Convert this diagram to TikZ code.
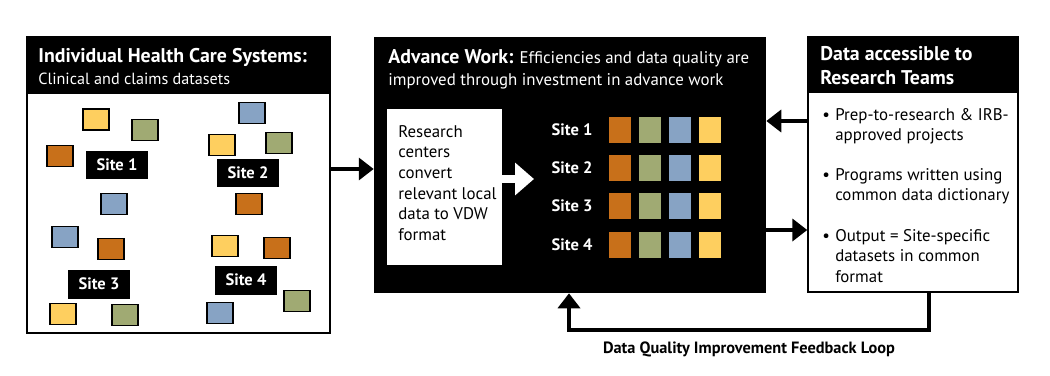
\documentclass[tikz,border=0pt]{standalone}
\usepackage{fontspec}
\setmainfont{PT Sans}
\usetikzlibrary{arrows.meta, positioning}

\definecolor{vdworange}{RGB}{200,112,26}
\definecolor{vdwgreen}{RGB}{160,170,115}
\definecolor{vdwblue}{RGB}{135,163,196}
\definecolor{vdwyellow}{RGB}{254,207,95}

\newcommand{\headsize}{\fontsize{11.3}{13.6}\selectfont}
\newcommand{\bodysize}{\fontsize{9.6}{11.8}\selectfont}
\newcommand{\subsize}{\fontsize{9.2}{11.8}\selectfont}
\newcommand{\tagsize}{\fontsize{9.4}{11}\selectfont}
\newcommand{\loopsize}{\fontsize{9.3}{11}\selectfont}
% text block whose base is the first line
\newcommand{\stack}[1]{\begin{tabular}[t]{@{}l@{}}#1\end{tabular}}
\newcommand{\bulletstack}[1]{\begin{tabular}[t]{@{}l@{\hspace{3pt}}l@{}}#1\end{tabular}}

\tikzset{
  panel/.style={draw=black, line width=0.85pt, inner sep=0pt},
  band/.style={fill=black, inner sep=0pt},
  rawcell/.style={draw=black, line width=0.8pt, minimum width=0.52cm, minimum height=0.42cm, inner sep=0pt},
  vdwcell/.style={minimum width=0.44cm, minimum height=0.52cm, inner sep=0pt},
  sitetag/.style={fill=black, text=white, font=\tagsize\bfseries, minimum width=1.24cm, minimum height=0.58cm, inner sep=0pt},
  link/.style={line width=2.3pt, -{Triangle[length=8.5pt, width=12.5pt]}},
  txt/.style={inner sep=0pt, anchor=base west},
}

\begin{document}
\begin{tikzpicture}[x=0.02cm, y=-0.02cm]
    \useasboundingbox (0,0) rectangle (1050,375);

    % 1. Left panel: the local systems
    \node[panel, minimum width=6.06cm, minimum height=5.92cm] (hcs) at (178.5,185) {};
    \node[band, minimum width=6.06cm, minimum height=1.14cm, anchor=north] (hcshead) at (hcs.north) {};
    \node[txt, text=white, font=\headsize\bfseries] (hcstitle) at (38,63) {Individual Health Care Systems:};
    \node[txt, text=white, font=\subsize] (hcssub) at (38,85) {Clinical and claims datasets};

    % scattered raw datasets
    \foreach \c/\x/\y [count=\i] in {vdwyellow/96/119.5, vdwgreen/145/130, vdworange/60/156, vdwblue/114/204,
        vdwblue/252/113, vdwyellow/222/145, vdwgreen/279/143, vdworange/249/204,
        vdwblue/65/237, vdworange/111/249, vdwyellow/63/314, vdwgreen/125/315,
        vdwyellow/225/246, vdworange/277/248, vdwgreen/297/301, vdwblue/220/313}
        \node[rawcell, fill=\c] (raw\i) at (\x,\y) {};

    \node[sitetag] (tag1) at (117,165) {Site 1};
    \node[sitetag] (tag2) at (248,173) {Site 2};
    \node[sitetag] (tag3) at (99,284) {Site 3};
    \node[sitetag] (tag4) at (246,280) {Site 4};

    % 2. Middle panel: advance work
    \node[fill=black, inner sep=0pt, minimum width=7.84cm, minimum height=5.12cm] (adv) at (570,165) {};
    \node[txt, text=white] (advtitle) at (388,64) {{\headsize\bfseries Advance Work:} {\bodysize Efficiencies and data quality are}};
    \node[txt, text=white, font=\bodysize] (advsub) at (388,86) {improved through investment in advance work};

    \node[fill=white, inner sep=0pt, minimum width=2.3cm, minimum height=3.12cm] (convert) at (444.5,187) {};
    \node[txt, font=\bodysize] (converttext) at (398,137)
        {\stack{Research\\centers\\convert\\relevant local\\data to VDW\\format}};

    % white arrow into the common grid
    \coordinate (gridin) at (534,179);
    \draw[white, line width=4.5pt, -{Triangle[length=10.8pt, width=18pt]}] (convert.east |- gridin) -- (gridin);

    \foreach \r/\y in {1/130, 2/168, 3/206, 4/245} {
        \node[text=white, font=\tagsize\bfseries, inner sep=0pt] (vdw\r) at (572,\y) {Site \r};
        \foreach \c/\x in {vdworange/620, vdwgreen/650, vdwblue/680, vdwyellow/710}
            \node[vdwcell, fill=\c] at (\x,\y) {};
    }

    % 3. Right panel: research teams
    \node[panel, fill=white, minimum width=4.2cm, minimum height=5.1cm] (access) at (913,164.5) {};
    \node[band, minimum width=4.2cm, minimum height=1.12cm, anchor=north] (accesshead) at (access.north) {};
    \node[txt, text=white, font=\headsize\bfseries] (accesstitle) at (820,61) {\stack{Data accessible to\\Research Teams}};

    \node[txt, font=\bodysize] (use1) at (822,120) {\bulletstack{\textbullet & Prep-to-research \& IRB-\\ & approved projects}};
    \node[txt, font=\bodysize] (use2) at (822,180) {\bulletstack{\textbullet & Programs written using\\ & common data dictionary}};
    \node[txt, font=\bodysize] (use3) at (822,241) {\bulletstack{\textbullet & Output = Site-specific\\ & datasets in common\\ & format}};

    % 4. Connectors
    \coordinate (inrow) at (0,169);
    \draw[link] (hcs.east |- inrow) -- (adv.west |- inrow);
    \coordinate (backrow) at (0,121);
    \draw[link] (access.west |- backrow) -- (adv.east |- backrow);
    \coordinate (outrow) at (0,230);
    \draw[link] (adv.east |- outrow) -- (access.west |- outrow);

    % feedback loop
    \coordinate (loopR) at (929,330);
    \coordinate (loopL) at (569,330);
    \draw[link] (access.south -| loopR) -- (loopR) -- (loopL) -- (adv.south -| loopL);
    \node[font=\loopsize\bfseries, anchor=base, inner sep=0pt] (looplabel) at (749,353) {Data Quality Improvement Feedback Loop};

\end{tikzpicture}
\end{document}
